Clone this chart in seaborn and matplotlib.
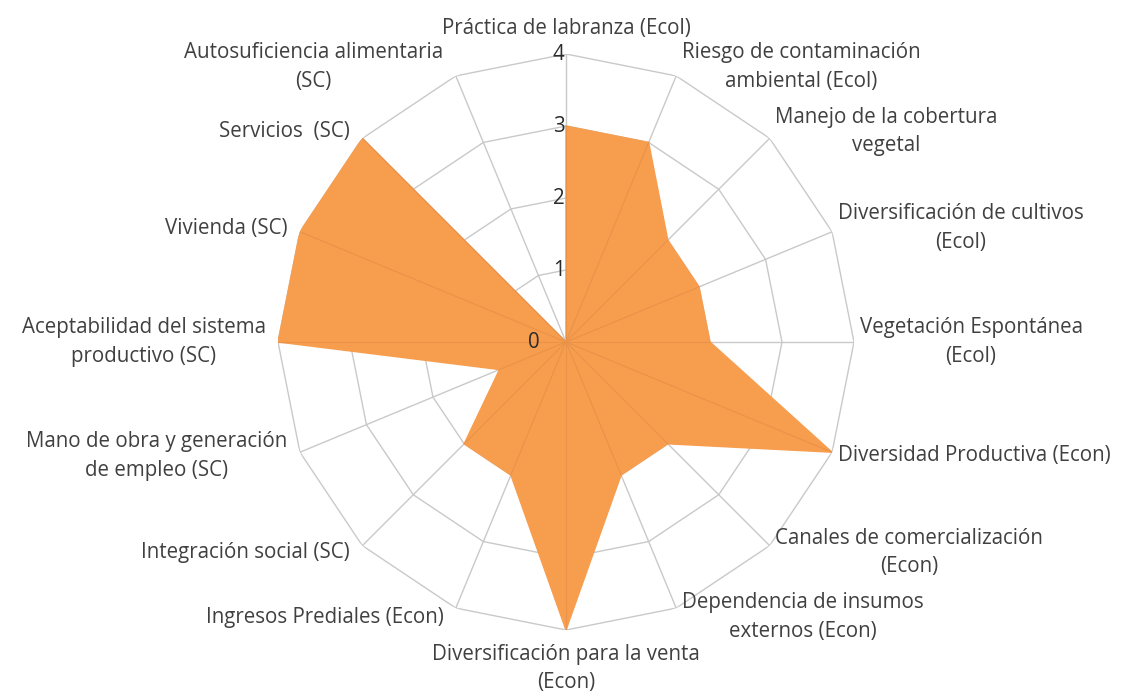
import numpy as np
import matplotlib
matplotlib.use("Agg")
import matplotlib.pyplot as plt
import seaborn as sns
import pandas as pd

categories = [
    "Práctica de labranza (Ecol)",
    "Riesgo de contaminación\nambiental (Ecol)",
    "Manejo de la cobertura\nvegetal",
    "Diversificación de cultivos\n(Ecol)",
    "Vegetación Espontánea\n(Ecol)",
    "Diversidad Productiva (Econ)",
    "Canales de comercialización\n(Econ)",
    "Dependencia de insumos\nexternos (Econ)",
    "Diversificación para la venta\n(Econ)",
    "Ingresos Prediales (Econ)",
    "Integración social (SC)",
    "Mano de obra y generación\nde empleo (SC)",
    "Aceptabilidad del sistema\nproductivo (SC)",
    "Vivienda (SC)",
    "Servicios  (SC)",
    "Autosuficiencia alimentaria\n(SC)",
]
values = [3, 3, 2, 2, 2, 4, 2, 2, 4, 2, 2, 1, 4, 4, 4, 0]
ring_values = [0, 1, 2, 3, 4]
ring_labels = ["0", "1", "2", "3", "4"]

ORANGE = "#F79D4E"
SEAM = "#E8924A"
GRID = "#C9C9C9"
TEXT = "#404040"

sns.set_theme(style="white")
plt.rcParams['font.family'] = ['Open Sans', 'DejaVu Sans']

fig = plt.figure(figsize=(11.21, 6.97), dpi=100)
cx, cy, rad = 566 / 1121, 1 - 342 / 697, 288
w, h = 2 * rad / 1121, 2 * rad / 697
ax = fig.add_axes([cx - w / 2, cy - h / 2, w, h], projection="polar")
ax.set_theta_zero_location("N")
ax.set_theta_direction(-1)

n = len(categories)
theta = np.arange(n) * 2 * np.pi / n
df = pd.DataFrame({"theta": np.append(theta, theta[0]),
                   "value": values + [values[0]]})

# grid rings (polygons) and spokes
rmax = ring_values[-1]
for r in ring_values[1:]:
    ax.plot(df["theta"], [r] * len(df), color=GRID, lw=1.0, zorder=1)
for t in theta:
    ax.plot([t, t], [0, rmax], color=GRID, lw=1.0, zorder=1)

# filled series
ax.fill(df["theta"], df["value"], color=ORANGE, lw=0, zorder=2)
sns.lineplot(data=df, x="theta", y="value", sort=False, estimator=None,
             color=ORANGE, lw=1.0, ax=ax, zorder=3)
# faint seams along spokes inside the fill
for t, v in zip(theta, values):
    if v > 0:
        ax.plot([t, t], [0, v], color=SEAM, lw=0.8, zorder=3)

ax.set_ylim(0, rmax)
ax.grid(False)
ax.spines["polar"].set_visible(False)
ax.set_xticks([])
ax.set_yticks([])
ax.set_xlabel("")
ax.set_ylabel("")
ax.patch.set_alpha(0)

FS = 14.8

# radial value labels
for r, lab in zip(ring_values, ring_labels):
    dx = -19 if r == 0 else -1
    ax.annotate(lab, xy=(0, r), xytext=(dx, 0), textcoords="offset points",
                ha="right", va="center", fontsize=FS, color="#2b2b2b", zorder=5)

# category labels
for t, lab in zip(theta, categories):
    s, c = np.sin(t), np.cos(t)
    if abs(s) < 1e-6:
        ha = "center"
        va = "bottom" if c > 0 else "top"
        dx, dy = 0, (11 if c > 0 else -10)
    else:
        ha = "left" if s > 0 else "right"
        va = "center"
        dx = 4 if s > 0 else -9
        dy = 7 * c
    ax.annotate(lab, xy=(t, rmax), xytext=(dx, dy), textcoords="offset points",
                ha=ha, va=va, multialignment="center", fontsize=FS,
                color=TEXT, linespacing=1.45, annotation_clip=False)

fig.savefig("out.png", dpi=100, facecolor="white")
